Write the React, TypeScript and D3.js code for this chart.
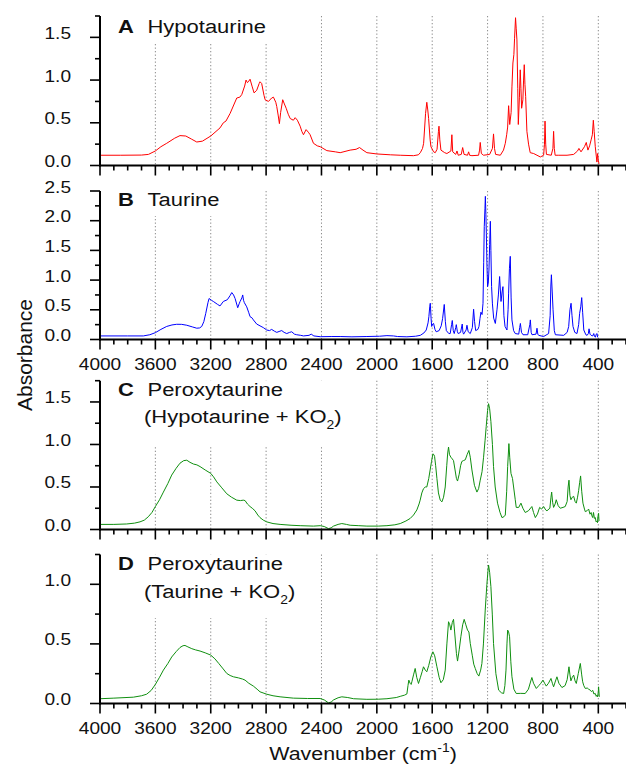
import React, { useEffect, useRef } from "react";
import * as d3 from "d3";

// ---------- data ----------
const X_MAJOR_TICKS = [4000, 3600, 3200, 2800, 2400, 2000, 1600, 1200, 800, 400];
const X_TICK_LABELS = ["4000", "3600", "3200", "2800", "2400", "2000", "1600", "1200", "800", "400"];
const GRID_WAVENUMBERS = [3600, 3200, 2800, 2400, 2000, 1600, 1200, 800, 400];

const HYPOTAURINE: [number, number][] = [
[4000,0.12],[3850,0.12],[3700,0.122],[3650,0.13],[3600,0.17],[3560,0.22],[3518,0.26],[3460,0.32],[3422,0.35],[3380,0.345],[3340,0.31],[3301,0.275],[3260,0.285],[3200,0.345],[3133,0.44],[3109,0.50],[3090,0.52],[3060,0.61],[3012,0.79],[2990,0.80],[2976,0.83],[2955,0.93],[2945,1.0],[2935,0.97],[2928,0.98],[2916,1.01],[2900,0.92],[2887,0.85],[2868,0.88],[2850,0.96],[2844,0.98],[2832,0.96],[2815,0.82],[2807,0.77],[2783,0.75],[2760,0.79],[2747,0.80],[2730,0.74],[2723,0.69],[2712,0.58],[2704,0.49],[2695,0.62],[2680,0.77],[2668,0.72],[2655,0.67],[2640,0.60],[2626,0.55],[2603,0.53],[2590,0.56],[2574,0.53],[2554,0.46],[2542,0.40],[2530,0.36],[2511,0.42],[2495,0.39],[2482,0.36],[2470,0.31],[2458,0.26],[2430,0.23],[2409,0.22],[2361,0.174],[2300,0.16],[2265,0.15],[2193,0.18],[2150,0.19],[2125,0.21],[2100,0.18],[2072,0.15],[2000,0.135],[1900,0.125],[1831,0.12],[1735,0.115],[1700,0.125],[1686,0.15],[1670,0.2],[1662,0.26],[1648,0.61],[1639,0.74],[1632,0.65],[1626,0.55],[1615,0.3],[1609,0.22],[1590,0.16],[1578,0.15],[1565,0.19],[1555,0.40],[1551,0.46],[1545,0.3],[1537,0.18],[1510,0.15],[1494,0.14],[1465,0.17],[1458,0.36],[1452,0.16],[1430,0.13],[1421,0.17],[1412,0.12],[1390,0.13],[1380,0.21],[1370,0.13],[1345,0.12],[1337,0.16],[1330,0.12],[1313,0.115],[1265,0.12],[1258,0.18],[1253,0.27],[1245,0.14],[1229,0.12],[1185,0.13],[1165,0.2],[1157,0.37],[1150,0.2],[1142,0.13],[1108,0.12],[1085,0.18],[1072,0.26],[1062,0.36],[1055,0.45],[1048,0.70],[1040,0.48],[1030,0.62],[1024,0.92],[1017,1.20],[1010,1.30],[1005,1.49],[998,1.73],[993,1.60],[988,1.47],[982,0.9],[978,0.48],[970,0.8],[964,1.12],[959,0.9],[954,0.67],[945,0.77],[940,1.0],[935,1.18],[930,0.95],[925,0.81],[916,0.40],[904,0.25],[892,0.15],[867,0.14],[819,0.10],[795,0.12],[789,0.25],[785,0.52],[780,0.25],[775,0.13],[740,0.12],[728,0.2],[723,0.40],[718,0.2],[712,0.12],[690,0.12],[626,0.12],[578,0.13],[550,0.17],[540,0.20],[525,0.16],[500,0.22],[487,0.27],[475,0.18],[463,0.23],[452,0.30],[443,0.36],[436,0.53],[430,0.40],[422,0.22],[414,0.10],[410,0.04],[405,0.14],[400,0.06],[395,0.02]
];

const TAURINE: [number, number][] = [
[4000,0.06],[3800,0.06],[3687,0.06],[3640,0.08],[3600,0.115],[3560,0.17],[3518,0.22],[3480,0.245],[3446,0.256],[3410,0.255],[3373,0.24],[3330,0.21],[3301,0.19],[3280,0.195],[3265,0.22],[3250,0.3],[3236,0.44],[3220,0.62],[3212,0.69],[3195,0.66],[3181,0.64],[3150,0.59],[3133,0.565],[3109,0.64],[3080,0.67],[3060,0.74],[3048,0.79],[3035,0.75],[3024,0.69],[3005,0.535],[2995,0.6],[2988,0.64],[2975,0.70],[2969,0.75],[2963,0.66],[2957,0.62],[2940,0.55],[2925,0.45],[2916,0.385],[2900,0.36],[2892,0.33],[2868,0.26],[2844,0.23],[2820,0.2],[2796,0.16],[2775,0.15],[2760,0.17],[2740,0.14],[2723,0.12],[2700,0.14],[2687,0.15],[2670,0.12],[2651,0.10],[2630,0.12],[2615,0.13],[2595,0.09],[2579,0.08],[2550,0.07],[2530,0.06],[2490,0.07],[2474,0.09],[2455,0.06],[2409,0.047],[2330,0.05],[2265,0.05],[2180,0.045],[2072,0.05],[1980,0.055],[1927,0.065],[1880,0.06],[1850,0.05],[1783,0.045],[1720,0.055],[1686,0.07],[1660,0.11],[1643,0.16],[1630,0.28],[1624,0.385],[1618,0.55],[1614,0.61],[1608,0.35],[1604,0.22],[1597,0.26],[1590,0.27],[1580,0.17],[1571,0.13],[1550,0.15],[1535,0.23],[1525,0.35],[1513,0.59],[1505,0.3],[1498,0.15],[1480,0.1],[1470,0.10],[1460,0.25],[1455,0.32],[1448,0.15],[1441,0.10],[1430,0.2],[1426,0.25],[1418,0.13],[1412,0.10],[1395,0.12],[1383,0.26],[1378,0.12],[1373,0.09],[1355,0.16],[1349,0.24],[1340,0.13],[1325,0.10],[1310,0.2],[1301,0.51],[1294,0.3],[1286,0.15],[1270,0.17],[1262,0.22],[1255,0.35],[1248,0.46],[1240,0.42],[1233,0.61],[1228,1.3],[1224,1.90],[1219,2.2],[1216,2.41],[1212,2.1],[1209,1.79],[1205,1.3],[1200,0.89],[1195,0.95],[1190,1.17],[1185,1.6],[1180,1.99],[1176,1.5],[1171,0.89],[1165,0.6],[1156,0.36],[1144,0.27],[1132,0.50],[1122,0.75],[1113,1.06],[1108,0.85],[1103,0.64],[1095,0.8],[1089,0.89],[1082,0.4],[1074,0.22],[1060,0.16],[1052,0.5],[1048,0.78],[1042,1.2],[1036,1.40],[1030,0.7],[1024,0.33],[1012,0.15],[1000,0.10],[975,0.09],[968,0.2],[963,0.27],[955,0.12],[944,0.08],[910,0.08],[895,0.25],[891,0.33],[885,0.12],[879,0.08],[850,0.09],[843,0.19],[837,0.09],[831,0.07],[795,0.05],[759,0.10],[748,0.4],[743,0.9],[739,1.09],[733,0.8],[727,0.50],[718,0.15],[710,0.08],[650,0.07],[625,0.12],[614,0.22],[605,0.5],[597,0.61],[590,0.4],[583,0.22],[570,0.12],[554,0.10],[542,0.25],[535,0.44],[527,0.55],[520,0.705],[513,0.45],[505,0.16],[490,0.08],[481,0.07],[472,0.1],[467,0.18],[460,0.09],[452,0.07],[440,0.06],[433,0.10],[427,0.05],[421,0.04],[415,0.09],[409,0.10],[405,0.04],[400,0.03]
];

const PEROXY_HYPO: [number, number][] = [
[4000,0.06],[3900,0.06],[3807,0.065],[3750,0.075],[3711,0.09],[3680,0.11],[3651,0.15],[3625,0.2],[3600,0.27],[3570,0.35],[3542,0.44],[3510,0.54],[3482,0.64],[3450,0.72],[3422,0.78],[3395,0.81],[3373,0.815],[3350,0.79],[3325,0.77],[3300,0.76],[3277,0.74],[3240,0.7],[3200,0.66],[3180,0.62],[3156,0.56],[3120,0.49],[3084,0.42],[3050,0.38],[3012,0.345],[2985,0.34],[2965,0.345],[2952,0.34],[2935,0.3],[2916,0.27],[2900,0.25],[2880,0.22],[2860,0.17],[2844,0.14],[2820,0.11],[2796,0.09],[2750,0.07],[2699,0.06],[2620,0.05],[2554,0.045],[2458,0.04],[2409,0.045],[2380,0.035],[2349,0.01],[2330,0.02],[2313,0.04],[2280,0.06],[2253,0.07],[2220,0.06],[2193,0.05],[2130,0.045],[2072,0.04],[1990,0.04],[1927,0.045],[1870,0.055],[1831,0.07],[1790,0.1],[1759,0.13],[1735,0.17],[1711,0.23],[1695,0.3],[1687,0.345],[1675,0.43],[1663,0.48],[1650,0.5],[1639,0.50],[1625,0.6],[1615,0.70],[1605,0.8],[1595,0.89],[1588,0.88],[1583,0.86],[1575,0.75],[1566,0.60],[1555,0.43],[1542,0.345],[1530,0.325],[1518,0.38],[1506,0.50],[1495,0.75],[1488,0.9],[1482,0.97],[1475,0.88],[1465,0.85],[1455,0.83],[1446,0.81],[1435,0.7],[1425,0.6],[1417,0.57],[1405,0.65],[1395,0.75],[1386,0.80],[1375,0.81],[1361,0.82],[1348,0.88],[1335,0.93],[1325,0.85],[1313,0.70],[1295,0.52],[1277,0.44],[1265,0.48],[1253,0.58],[1240,0.68],[1229,0.85],[1218,1.05],[1210,1.21],[1200,1.40],[1193,1.48],[1185,1.42],[1176,1.27],[1165,1.0],[1157,0.74],[1145,0.5],[1128,0.31],[1110,0.2],[1096,0.14],[1082,0.15],[1072,0.17],[1062,0.45],[1055,0.74],[1046,1.01],[1040,0.85],[1031,0.66],[1020,0.6],[1012,0.50],[1000,0.35],[993,0.26],[975,0.26],[959,0.31],[945,0.25],[928,0.20],[905,0.22],[880,0.27],[868,0.2],[855,0.14],[840,0.18],[824,0.26],[810,0.24],[795,0.27],[780,0.23],[771,0.22],[750,0.25],[742,0.38],[737,0.44],[730,0.32],[723,0.26],[712,0.3],[704,0.35],[690,0.28],[675,0.25],[655,0.26],[639,0.27],[625,0.33],[618,0.5],[612,0.58],[605,0.4],[598,0.35],[588,0.38],[578,0.39],[568,0.33],[559,0.31],[550,0.38],[542,0.46],[535,0.55],[528,0.63],[520,0.45],[511,0.31],[500,0.24],[494,0.21],[482,0.22],[470,0.24],[460,0.18],[452,0.2],[446,0.16],[440,0.14],[435,0.20],[428,0.13],[422,0.14],[416,0.09],[410,0.10],[406,0.08],[403,0.15],[398,0.19],[395,0.10]
];

const PEROXY_TAU: [number, number][] = [
[4000,0.04],[3900,0.045],[3759,0.053],[3700,0.065],[3663,0.078],[3630,0.11],[3600,0.16],[3570,0.22],[3542,0.28],[3510,0.335],[3482,0.39],[3450,0.435],[3422,0.47],[3400,0.485],[3386,0.487],[3365,0.475],[3337,0.46],[3310,0.45],[3277,0.44],[3240,0.425],[3200,0.406],[3170,0.375],[3142,0.336],[3110,0.29],[3084,0.252],[3060,0.235],[3036,0.224],[3000,0.215],[2970,0.205],[2952,0.196],[2925,0.17],[2892,0.146],[2865,0.12],[2844,0.098],[2796,0.078],[2750,0.065],[2699,0.056],[2603,0.045],[2500,0.042],[2410,0.042],[2380,0.03],[2349,0.005],[2330,0.012],[2313,0.03],[2280,0.048],[2253,0.056],[2210,0.05],[2168,0.04],[2072,0.035],[1990,0.036],[1927,0.04],[1860,0.05],[1831,0.06],[1800,0.07],[1783,0.08],[1775,0.15],[1769,0.196],[1760,0.17],[1752,0.16],[1747,0.182],[1735,0.24],[1723,0.294],[1712,0.22],[1699,0.168],[1685,0.22],[1672,0.27],[1663,0.308],[1650,0.28],[1639,0.266],[1625,0.32],[1610,0.39],[1595,0.434],[1582,0.4],[1566,0.308],[1550,0.22],[1537,0.174],[1520,0.2],[1506,0.28],[1494,0.5],[1482,0.686],[1473,0.66],[1465,0.616],[1455,0.68],[1446,0.706],[1438,0.6],[1425,0.42],[1417,0.356],[1405,0.45],[1393,0.56],[1380,0.66],[1369,0.706],[1357,0.66],[1345,0.616],[1335,0.6],[1325,0.504],[1310,0.4],[1300,0.33],[1289,0.294],[1275,0.25],[1263,0.23],[1250,0.28],[1241,0.336],[1230,0.5],[1217,0.784],[1205,1.0],[1198,1.1],[1193,1.162],[1185,1.1],[1176,0.98],[1166,0.75],[1157,0.504],[1140,0.25],[1120,0.112],[1100,0.09],[1084,0.084],[1075,0.15],[1067,0.28],[1060,0.5],[1055,0.616],[1048,0.6],[1041,0.56],[1032,0.35],[1024,0.224],[1010,0.12],[993,0.084],[960,0.085],[928,0.084],[905,0.12],[890,0.18],[880,0.218],[868,0.17],[848,0.126],[830,0.15],[815,0.17],[800,0.196],[788,0.17],[776,0.146],[760,0.17],[742,0.21],[732,0.17],[723,0.14],[712,0.18],[699,0.224],[685,0.17],[663,0.134],[640,0.15],[625,0.2],[612,0.308],[605,0.24],[598,0.19],[588,0.22],[578,0.238],[568,0.19],[559,0.168],[545,0.25],[530,0.336],[520,0.24],[513,0.182],[505,0.15],[494,0.126],[480,0.13],[470,0.12],[458,0.112],[450,0.1],[440,0.11],[432,0.08],[422,0.084],[415,0.06],[410,0.07],[405,0.056],[400,0.1],[398,0.14],[393,0.056]
];

// ---------- layout ----------
const W = 626;
const H = 767;
const FONT = "'Liberation Sans', Arial, sans-serif";
const SX = 1.157;
const X0 = 100;

type Panel = {
  letter: string;
  line1: string;
  line2?: string;
  data: [number, number][];
  color: string;
  yMax: number;
  top: number;
  bottom: number;
  showX: boolean;
  titleY: number;
  title2Y?: number;
  boxBottom: number;
};

const PANELS: Panel[] = [
  { letter: "A", line1: "Hypotaurine", data: HYPOTAURINE, color: "#ff0000", yMax: 1.75, top: 16, bottom: 165.5, showX: false, titleY: 33.3, boxBottom: 43 },
  { letter: "B", line1: "Taurine", data: TAURINE, color: "#0000ff", yMax: 2.5, top: 191, bottom: 339.5, showX: true, titleY: 206, boxBottom: 216 },
  { letter: "C", line1: "Peroxytaurine", line2: "(Hypotaurine + KO", data: PEROXY_HYPO, color: "#0f8f0f", yMax: 1.75, top: 380.7, bottom: 529.5, showX: false, titleY: 396, title2Y: 423.3, boxBottom: 445 },
  { letter: "D", line1: "Peroxytaurine", line2: "(Taurine + KO", data: PEROXY_TAU, color: "#0f8f0f", yMax: 1.25, top: 554.5, bottom: 703.5, showX: true, titleY: 570, title2Y: 598.3, boxBottom: 618 },
];

export default function App() {
  const ref = useRef<SVGSVGElement>(null);

  useEffect(() => {
    const svg = d3.select(ref.current!);
    svg.selectAll("*").remove();
    svg.append("rect").attr("width", W).attr("height", H).attr("fill", "#fff");

    const x = d3.scaleLinear().domain([4000, 200]).range([X0, W]);
    const minorX = d3.range(4000, 199, -100).filter((v) => v % 400 !== 0);

    PANELS.forEach((p) => {
      const y = d3.scaleLinear().domain([0, p.yMax]).range([p.bottom, p.top]);
      const g = svg.append("g");

      // grid
      g.selectAll(".grid")
        .data(GRID_WAVENUMBERS)
        .join("line")
        .attr("x1", (d) => x(d))
        .attr("x2", (d) => x(d))
        .attr("y1", p.top)
        .attr("y2", p.bottom)
        .attr("stroke", "#8a8a8a")
        .attr("stroke-width", 1)
        .attr("stroke-dasharray", "1.3,2.2");

      // title box + title
      const box = g.append("rect").attr("fill", "#fff");
      const tg = g.append("g").attr("font-family", FONT).attr("fill", "#111");
      tg.append("text")
        .attr("transform", `translate(118,${p.titleY}) scale(${SX},1)`)
        .attr("font-size", 19)
        .attr("font-weight", "bold")
        .text(p.letter);
      tg.append("text")
        .attr("transform", `translate(147.5,${p.titleY}) scale(${SX},1)`)
        .attr("font-size", 19)
        .text(p.line1);
      if (p.line2) {
        const t2 = tg.append("text")
          .attr("transform", `translate(144,${p.title2Y}) scale(${SX},1)`)
          .attr("font-size", 19);
        t2.append("tspan").text(p.line2);
        t2.append("tspan").attr("font-size", 12).attr("dy", 6).text("2");
        t2.append("tspan").attr("dy", -6).text(")");
      }
      const bb = (tg.node() as SVGGElement).getBBox();
      box
        .attr("x", X0 + 2)
        .attr("y", p.top)
        .attr("width", bb.x + bb.width + 5 - (X0 + 2))
        .attr("height", p.boxBottom - p.top);

      // spectrum
      const line = d3
        .line<[number, number]>()
        .x((d) => x(d[0]))
        .y((d) => y(d[1]));
      g.append("path")
        .attr("d", line(p.data) as string)
        .attr("fill", "none")
        .attr("stroke", p.color)
        .attr("stroke-width", 1)
        .attr("stroke-linejoin", "round");

      // x axis
      g.append("line")
        .attr("x1", X0 - 1)
        .attr("x2", W)
        .attr("y1", p.bottom)
        .attr("y2", p.bottom)
        .attr("stroke", "#000")
        .attr("stroke-width", 2);
      g.selectAll(".xmaj")
        .data(X_MAJOR_TICKS)
        .join("line")
        .attr("x1", (d) => x(d))
        .attr("x2", (d) => x(d))
        .attr("y1", p.bottom)
        .attr("y2", p.bottom + 10)
        .attr("stroke", "#000")
        .attr("stroke-width", 1.6);
      g.selectAll(".xmin")
        .data(minorX)
        .join("line")
        .attr("x1", (d) => x(d))
        .attr("x2", (d) => x(d))
        .attr("y1", p.bottom)
        .attr("y2", p.bottom + 5)
        .attr("stroke", "#000")
        .attr("stroke-width", 1.6);
      if (p.showX) {
        X_MAJOR_TICKS.forEach((v, i) => {
          g.append("text")
            .attr("transform", `translate(${x(v)},${p.bottom + 30}) scale(${SX},1)`)
            .attr("text-anchor", "middle")
            .attr("font-family", FONT)
            .attr("font-size", 16.5)
            .attr("fill", "#111")
            .text(X_TICK_LABELS[i]);
        });
      }

      // y axis
      g.append("line")
        .attr("x1", X0)
        .attr("x2", X0)
        .attr("y1", p.top)
        .attr("y2", p.bottom + 1)
        .attr("stroke", "#000")
        .attr("stroke-width", 2);
      const majY = d3.range(0, p.yMax + 1e-6, 0.5);
      const minY = d3.range(0.25, p.yMax + 1e-6, 0.5);
      g.selectAll(".ymaj")
        .data(majY)
        .join("line")
        .attr("x1", X0)
        .attr("x2", X0 - 10)
        .attr("y1", (d) => y(d))
        .attr("y2", (d) => y(d))
        .attr("stroke", "#000")
        .attr("stroke-width", 1.6);
      g.selectAll(".ymin")
        .data(minY)
        .join("line")
        .attr("x1", X0)
        .attr("x2", X0 - 5)
        .attr("y1", (d) => y(d))
        .attr("y2", (d) => y(d))
        .attr("stroke", "#000")
        .attr("stroke-width", 1.6);
      majY.forEach((v) => {
        g.append("text")
          .attr("transform", `translate(71,${y(v) + 1.5}) scale(${SX},1)`)
          .attr("text-anchor", "end")
          .attr("font-family", FONT)
          .attr("font-size", 16.5)
          .attr("fill", "#111")
          .text(d3.format(".1f")(v));
      });
    });

    // axis titles
    const xt = svg.append("text")
      .attr("transform", `translate(363,760) scale(${SX},1)`)
      .attr("text-anchor", "middle")
      .attr("font-family", FONT)
      .attr("font-size", 18.5)
      .attr("fill", "#111");
    xt.append("tspan").text("Wavenumber (cm");
    xt.append("tspan").attr("font-size", 12).attr("dy", -8).text("-1");
    xt.append("tspan").attr("dy", 8).text(")");

    svg.append("text")
      .attr("transform", "translate(32,355) rotate(-90)")
      .attr("text-anchor", "middle")
      .attr("font-family", FONT)
      .attr("font-size", 21)
      .attr("fill", "#111")
      .text("Absorbance");
  }, []);

  return (
    <svg
      ref={ref}
      width={W}
      height={H}
      style={{ position: "absolute", left: 0, top: 0, display: "block" }}
    />
  );
}
